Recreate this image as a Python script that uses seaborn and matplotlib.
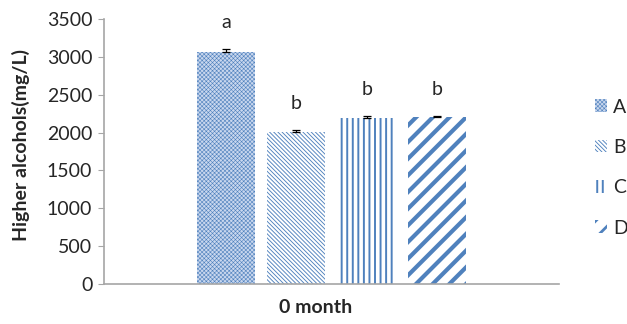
import pandas as pd
import matplotlib
matplotlib.use("Agg")
import matplotlib.pyplot as plt
from matplotlib.patches import Patch
import seaborn as sns

# data
groups = ["A", "B", "C", "D"]
values = [3070, 2010, 2190, 2205]
errors = [30, 20, 30, 20]
letters = ["a", "b", "b", "b"]
month = ["0 month"] * 4

df = pd.DataFrame({"month": month, "group": groups, "value": values})

sns.set_theme(style="white")
plt.rcParams["font.family"] = ["Lato", "DejaVu Sans"]

blue = "#4F81BD"
axis_grey = "#A6A6A6"
# (facecolor, hatch, hatch linewidth) per group
styles = [
    ("#C9D7EE", "xxxxxxxx", 0.4),
    ("white", "\\" * 8, 0.65),
    ("white", "|||", 1.4),
    ("white", "//", 3.0),
]

fig = plt.figure(figsize=(6.27, 3.24), dpi=100)
ax = fig.add_axes([0.166, 0.1235, 0.7255, 0.8175])

sns.barplot(data=df, x="month", y="value", hue="group", hue_order=groups,
            width=0.62, gap=0.18, errorbar=None, legend=False, ax=ax)

bars = [p for p in ax.patches if p.get_height() > 0]
bars = sorted(bars, key=lambda p: p.get_x())
for p, (fc, h, hlw), v, e, lt in zip(bars, styles, values, errors, letters):
    p.set_facecolor(fc)
    p.set_edgecolor(blue)
    p.set_linewidth(0)
    p.set_hatch(h)
    if hasattr(p, "set_hatch_linewidth"):
        p.set_hatch_linewidth(hlw)
    xc = p.get_x() + p.get_width() / 2
    ax.errorbar(xc, v, yerr=[[0], [e]], fmt="none", ecolor="black",
                elinewidth=0.9, capsize=3, capthick=0.9)
    ax.annotate(lt, (xc, v + e), xytext=(0, 19), textcoords="offset points",
                ha="center", va="center", fontsize=14)

ax.set_ylim(0, 3500)
ax.set_yticks(range(0, 3501, 500))
ax.set_xlim(-0.5, 0.5)
ax.set_xticks([])
ax.set_xlabel("0 month", fontsize=14, fontweight="bold")
ax.xaxis.set_label_coords(0.464, -0.055)
ax.set_ylabel("Higher alcohols(mg/L)", fontsize=14, fontweight="bold")
ax.yaxis.set_label_coords(-0.163, 0.525)
ax.tick_params(axis="y", which="both", left=True, length=4.5, width=0.8,
               color=axis_grey, labelsize=14, pad=4)

for side in ["top", "right"]:
    ax.spines[side].set_visible(False)
for side in ["left", "bottom"]:
    ax.spines[side].set_color(axis_grey)
    ax.spines[side].set_linewidth(1.2)

handles = [Patch(facecolor=fc, edgecolor=blue, linewidth=0, hatch=h)
           for fc, h, hlw in styles]
leg = ax.legend(handles, groups, loc="upper left", bbox_to_anchor=(1.08, 0.70),
                frameon=False, fontsize=14, handlelength=0.62, handleheight=0.62,
                handletextpad=0.3, labelspacing=1.2, borderpad=0, borderaxespad=0)
for hp, (fc, h, hlw) in zip(leg.get_patches(), styles):
    if hasattr(hp, "set_hatch_linewidth"):
        hp.set_hatch_linewidth(min(hlw, 2.0))

fig.savefig("out.png", dpi=100)
